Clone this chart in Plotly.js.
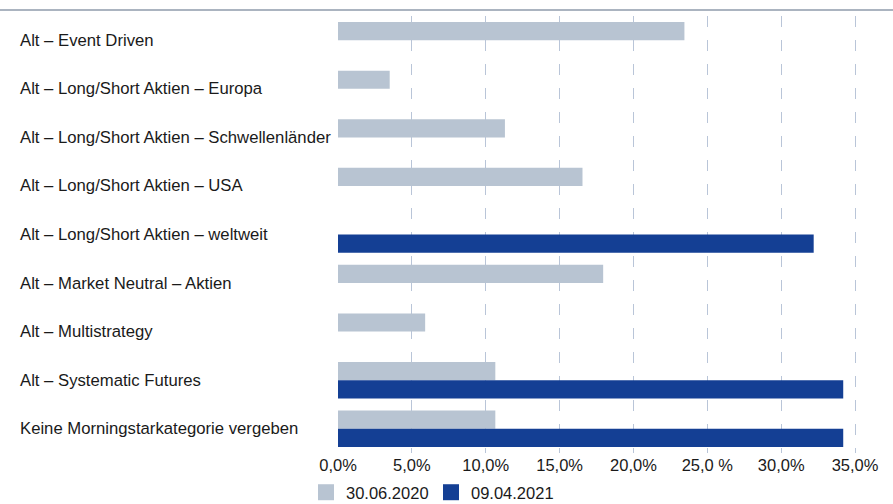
<!DOCTYPE html>
<html>
<head>
<meta charset="utf-8">
<script src="https://cdn.plot.ly/plotly-3.0.1.min.js"></script>
<style>html,body{margin:0;padding:0;background:#fff;}#chart{width:893px;height:504px;}</style>
</head>
<body>
<div id="chart"></div>
<script>
const categories = [
  "Alt – Event Driven",
  "Alt – Long/Short Aktien – Europa",
  "Alt – Long/Short Aktien – Schwellenländer",
  "Alt – Long/Short Aktien – USA",
  "Alt – Long/Short Aktien – weltweit",
  "Alt – Market Neutral – Aktien",
  "Alt – Multistrategy",
  "Alt – Systematic Futures",
  "Keine Morningstarkategorie vergeben"
];
const seriesNames = ["30.06.2020", "09.04.2021"];
const values2020 = [23.45, 3.5, 11.3, 16.55, null, 17.95, 5.9, 10.65, 10.65];
const values2021 = [null, null, null, null, 32.2, null, null, 34.2, 34.2];
const tickValues = [0, 5, 10, 15, 20, 25, 30, 35];
const tickLabels = ["0,0%", "5,0%", "10,0%", "15,0%", "20,0%", "25,0 %", "30,0%", "35,0%"];
const colors = ["#b8c4d2", "#143f94"];

const font = "Liberation Sans, Arial, Helvetica, sans-serif";
const W = 893, H = 504;
const mL = 338, mR = 35, mT = 16, mB = 51;
const pw = W - mL - mR, ph = H - mT - mB;

const traces = [
  {type: "bar", orientation: "h", name: seriesNames[0], y: categories, x: values2020,
   marker: {color: colors[0]}, showlegend: false},
  {type: "bar", orientation: "h", name: seriesNames[1], y: categories, x: values2021,
   marker: {color: colors[1]}, showlegend: false},
  {type: "scatter", mode: "markers", name: seriesNames[0], x: [null], y: [null],
   marker: {symbol: "square", size: 16, color: colors[0]}, showlegend: true},
  {type: "scatter", mode: "markers", name: seriesNames[1], x: [null], y: [null],
   marker: {symbol: "square", size: 16, color: colors[1]}, showlegend: true}
];

const annotations = categories.map(c => ({
  x: -(mL - 18) / pw, xref: "paper", xanchor: "left",
  y: c, yref: "y", yanchor: "middle",
  text: c, showarrow: false,
  font: {family: font, size: 16.7, color: "#1a1a1a"}
}));

const layout = {
  width: W, height: H,
  margin: {l: mL, r: mR, t: mT, b: mB, autoexpand: false},
  paper_bgcolor: "#fff", plot_bgcolor: "#fff",
  barmode: "group", bargap: 0.25, bargroupgap: 0,
  font: {family: font, size: 16.5, color: "#1a1a1a"},
  xaxis: {
    range: [0, 35.2], tickvals: tickValues, ticktext: tickLabels,
    showgrid: true, gridcolor: "#b9c5d8", gridwidth: 1, griddash: "11px,13px",
    zeroline: false, showline: false, ticks: "", fixedrange: true,
    tickfont: {family: font, size: 16.5, color: "#1a1a1a"}, automargin: false
  },
  yaxis: {
    autorange: "reversed", showticklabels: false, showgrid: false,
    zeroline: false, showline: false, ticks: "", fixedrange: true, automargin: false
  },
  showlegend: true,
  legend: {
    orientation: "h", xref: "container", yref: "container",
    x: 306 / W, xanchor: "left", y: 29 / H, yanchor: "top",
    font: {family: font, size: 16.5, color: "#1a1a1a"},
    itemsizing: "trace", tracegroupgap: 0, itemwidth: 30,
    entrywidth: 80, entrywidthmode: "pixels",
    traceorder: "normal", itemclick: false, itemdoubleclick: false
  },
  annotations: annotations,
  shapes: [{
    type: "line", xref: "paper", yref: "paper",
    x0: -mL / pw, x1: (W - mL) / pw,
    y0: (H - mB - 10) / ph, y1: (H - mB - 10) / ph,
    line: {color: "#8f9bab", width: 1.5}
  }]
};

Plotly.newPlot("chart", traces, layout, {displayModeBar: false, staticPlot: true});
</script>
</body>
</html>
